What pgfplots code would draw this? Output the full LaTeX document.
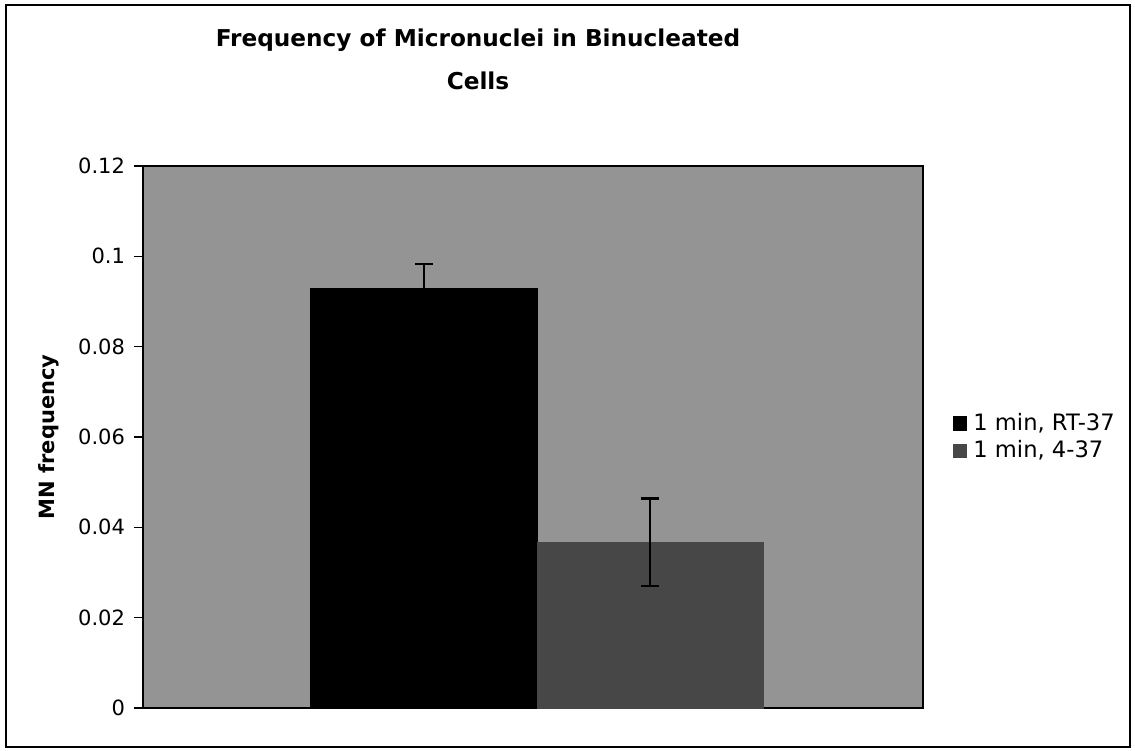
\documentclass[border=0pt]{standalone}
\usepackage{fontspec}
\setmainfont{DejaVu Sans}
\usepackage{pgfplots}
\pgfplotsset{compat=1.18}
\begin{document}
\begin{tikzpicture}
\useasboundingbox (-71.5pt,-21pt) rectangle (496pt,354pt);
\fill[white] (-71.5pt,-21pt) rectangle (496pt,354pt);
\draw[line width=0.8pt] (-68.5pt,-19.5pt) rectangle (493.5pt,351.5pt);
\node[align=center,font=\fontsize{11.6}{21.5}\selectfont\bfseries] at (167.5pt,324.5pt)
  {Frequency of Micronuclei in Binucleated\\Cells};
\begin{axis}[
  at={(0,0)}, anchor=south west,
  scale only axis, width=390pt, height=271pt,
  xmin=-1, xmax=1, ymin=0, ymax=0.12,
  axis background/.style={fill=black!42},
  axis line style={line width=0.9pt},
  xtick=\empty,
  ytick={0,0.02,0.04,0.06,0.08,0.1,0.12},
  yticklabels={0,0.02,0.04,0.06,0.08,0.1,0.12},
  tick style={black, line width=0.7pt},
  ytick pos=left, tick align=outside, major tick length=4.5pt,
  yticklabel style={font=\fontsize{10.5}{12}\selectfont, xshift=-1pt},
  ylabel={MN frequency},
  every axis y label/.style={at={(-47pt,0.5)}, rotate=90, anchor=center,
    font=\fontsize{10.5}{12}\selectfont\bfseries},
  ybar, bar width=0.58,
  legend style={at={(1.038,0.5)}, anchor=west, draw=none, fill=none,
    font=\fontsize{11.3}{12}\selectfont, inner xsep=0pt,
    row sep=1.5pt,
    nodes={inner sep=1pt}},
  legend cell align=left,
  legend image code/.code={\fill[#1] (0pt,-3.3pt) rectangle (6.6pt,3.3pt);
    \path[draw=none,fill=none] (0pt,0pt) -- (9pt,0pt);},
]
\addplot[fill=black, draw=black, bar shift=-0.28,
  error bars/.cd, y dir=both, y explicit,
  error bar style={line width=1.3pt, black},
  error mark options={rotate=90, mark size=4.5pt, line width=1.3pt, black}]
  coordinates {(0,0.093) +- (0,0.0053)};
\addlegendentry{1 min, RT-37}
\addplot[fill=black!72, draw=black!72, bar shift=0.30,
  error bars/.cd, y dir=both, y explicit,
  error bar style={line width=1.3pt, black},
  error mark options={rotate=90, mark size=4.5pt, line width=1.3pt, black}]
  coordinates {(0,0.0367) +- (0,0.0097)};
\addlegendentry{1 min, 4-37}
\end{axis}
\end{tikzpicture}
\end{document}
